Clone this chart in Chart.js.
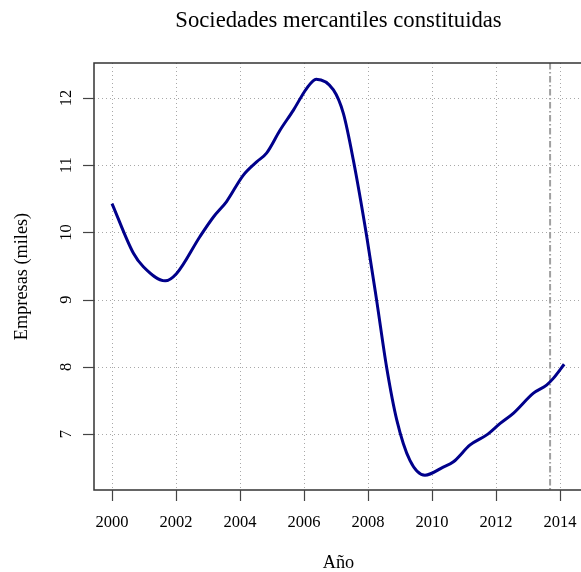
<!DOCTYPE html>
<html>
<head>
<meta charset="utf-8">
<script src="https://cdn.jsdelivr.net/npm/chart.js@4/dist/chart.umd.min.js"></script>
<style>
  html, body { margin: 0; padding: 0; background: #ffffff; }
  #wrap { width: 581px; height: 572px; }
</style>
</head>
<body>
<div id="wrap"><canvas id="c" width="581" height="572"></canvas></div>
<script>
// Sociedades mercantiles constituidas (miles), serie suavizada
const years = [2000.0, 2000.67, 2000.98, 2001.66, 2002.02, 2002.75, 2003.17, 2003.58,
               2004.10, 2004.52, 2004.83, 2005.25, 2005.67, 2006.08, 2006.38, 2006.92,
               2007.23, 2007.54, 2007.96, 2008.27, 2008.58, 2008.90, 2009.31, 2009.78,
               2010.35, 2010.67, 2011.19, 2011.71, 2012.13, 2012.54, 2013.17, 2013.58,
               2013.79, 2014.13];
const empresas = [10.43, 9.69, 9.49, 9.28, 9.39, 9.94, 10.23, 10.46,
                  10.85, 11.05, 11.18, 11.52, 11.82, 12.14, 12.28, 12.12,
                  11.77, 11.08, 9.94, 8.99, 8.00, 7.21, 6.61, 6.39,
                  6.51, 6.59, 6.84, 6.99, 7.16, 7.31, 7.61, 7.73,
                  7.83, 8.04];
const xTicks = [2000, 2002, 2004, 2006, 2008, 2010, 2012, 2014];
const yTicks = [7, 8, 9, 10, 11, 12];
const marcaVertical = 2013.69;

const titulo = 'Sociedades mercantiles constituidas';
const tituloX = 'Año';
const tituloY = 'Empresas (miles)';

const FONT = "'Liberation Serif', 'Times New Roman', serif";

const puntos = years.map((x, i) => ({ x: x, y: empresas[i] }));

// Grid, reference line, frame, ticks and all text drawn on the canvas
const marco = {
  id: 'marco',
  beforeDatasetsDraw(chart) {
    const { ctx, chartArea: a, scales: { x, y } } = chart;
    ctx.save();
    // dotted grid
    ctx.strokeStyle = '#a8a8a8';
    ctx.lineWidth = 1;
    ctx.setLineDash([1, 3]);
    xTicks.forEach(v => {
      const px = Math.round(x.getPixelForValue(v)) + 0.5;
      ctx.beginPath(); ctx.moveTo(px, a.top); ctx.lineTo(px, a.bottom); ctx.stroke();
    });
    yTicks.forEach(v => {
      const py = Math.round(y.getPixelForValue(v)) + 0.5;
      ctx.beginPath(); ctx.moveTo(a.left, py); ctx.lineTo(a.right, py); ctx.stroke();
    });
    // dash-dot reference line
    ctx.strokeStyle = '#a0a0a0';
    ctx.lineWidth = 2;
    ctx.setLineDash([6.5, 2.5, 1.5, 2.5]);
    const vx = x.getPixelForValue(marcaVertical);
    ctx.beginPath(); ctx.moveTo(vx, a.top); ctx.lineTo(vx, a.bottom); ctx.stroke();
    ctx.restore();
  },
  afterDraw(chart) {
    const { ctx, chartArea: a, scales: { x, y } } = chart;
    ctx.save();
    // frame
    ctx.setLineDash([]);
    ctx.strokeStyle = '#333333';
    ctx.lineWidth = 1.5;
    ctx.beginPath();
    ctx.moveTo(a.right + 2, a.top);
    ctx.lineTo(a.left, a.top);
    ctx.lineTo(a.left, a.bottom);
    ctx.lineTo(a.right + 2, a.bottom);
    ctx.stroke();
    // tick marks
    ctx.strokeStyle = '#444444';
    ctx.lineWidth = 1.2;
    xTicks.forEach(v => {
      const px = Math.round(x.getPixelForValue(v)) + 0.5;
      ctx.beginPath(); ctx.moveTo(px, a.bottom); ctx.lineTo(px, a.bottom + 11); ctx.stroke();
    });
    yTicks.forEach(v => {
      const py = Math.round(y.getPixelForValue(v)) + 0.5;
      ctx.beginPath(); ctx.moveTo(a.left, py); ctx.lineTo(a.left - 11, py); ctx.stroke();
    });
    // tick labels
    ctx.fillStyle = '#000000';
    ctx.font = '16.5px ' + FONT;
    ctx.textAlign = 'center';
    ctx.textBaseline = 'middle';
    xTicks.forEach(v => {
      ctx.fillText(String(v), x.getPixelForValue(v), a.bottom + 33);
    });
    yTicks.forEach(v => {
      ctx.save();
      ctx.translate(a.left - 27, y.getPixelForValue(v));
      ctx.rotate(-Math.PI / 2);
      ctx.fillText(String(v), 0, 0);
      ctx.restore();
    });
    // axis titles
    const cx = (a.left + a.right + 2) / 2;
    const cy = (a.top + a.bottom) / 2;
    ctx.font = '18.3px ' + FONT;
    ctx.fillText(tituloX, cx, a.bottom + 73);
    ctx.save();
    ctx.translate(22, cy);
    ctx.rotate(-Math.PI / 2);
    ctx.fillText(tituloY, 0, 0);
    ctx.restore();
    // main title
    ctx.font = '22.7px ' + FONT;
    ctx.fillText(titulo, cx, 21);
    ctx.restore();
  }
};

new Chart(document.getElementById('c'), {
  type: 'line',
  data: {
    datasets: [{
      data: puntos,
      borderColor: '#00008b',
      borderWidth: 3,
      pointRadius: 0,
      fill: false,
      cubicInterpolationMode: 'monotone'
    }]
  },
  options: {
    responsive: false,
    animation: false,
    devicePixelRatio: 1,
    layout: { padding: { left: 94, top: 63, right: 0, bottom: 82 } },
    plugins: { legend: { display: false }, tooltip: { enabled: false }, title: { display: false } },
    scales: {
      x: { type: 'linear', display: false, min: 1999.4375, max: 2014.656 },
      y: { type: 'linear', display: false, min: 6.17, max: 12.52 }
    }
  },
  plugins: [marco]
});
</script>
</body>
</html>
